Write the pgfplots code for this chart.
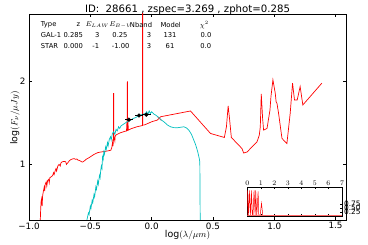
\documentclass[border=0pt]{standalone}
\usepackage{fontspec}
\setmainfont{DejaVu Sans}
\usepackage{pgfplots}
\pgfplotsset{compat=1.18}
\definecolor{mplcyan}{rgb}{0,0.75,0.75}
\begin{document}
\begin{tikzpicture}
\useasboundingbox (0,0) rectangle (368bp,245bp);
\begin{axis}[
  at={(29bp,25bp)}, anchor=south west,
  scale only axis, width=317bp, height=206bp,
  xmin=-1, xmax=1.585, ymin=0.334, ymax=2.8,
  xtick={-1,-0.5,0,0.5,1,1.5},
  xticklabels={−1.0,−0.5,0.0,0.5,1.0,1.5},
  ytick={1,2}, yticklabels={1,2},
  tick align=inside, major tick length=3bp,
  tick style={black, line width=0.5bp},
  axis line style={line width=0.8bp},
  ticklabel style={font=\fontsize{8.8}{10}\selectfont},
  xticklabel style={yshift=1bp},
]
% galaxy template (red)
\addplot[red, line width=0.7bp] coordinates {
(-0.908,0.334)(-0.905,0.45)(-0.902,0.55)(-0.897,0.587)(-0.893,0.50)(-0.889,0.62)(-0.885,0.66)(-0.88,0.70)(-0.876,0.727)(-0.872,0.68)(-0.868,0.76)(-0.86,0.79)(-0.855,0.74)(-0.848,0.807)(-0.84,0.82)(-0.835,0.78)(-0.83,0.84)(-0.82,0.85)(-0.807,0.867)(-0.80,0.90)(-0.795,0.88)(-0.785,0.93)(-0.78,0.948)(-0.775,0.92)(-0.765,0.98)(-0.755,1.00)(-0.745,0.98)(-0.740,1.016)(-0.73,1.03)(-0.713,1.036)(-0.70,1.03)(-0.695,1.00)(-0.685,1.016)(-0.67,1.045)(-0.659,1.057)(-0.645,1.065)(-0.632,1.069)(-0.62,1.06)(-0.61,1.065)(-0.60,1.05)(-0.591,1.048)(-0.58,1.04)(-0.57,1.03)(-0.563,1.028)(-0.55,1.04)(-0.535,1.06)(-0.523,1.069)(-0.50,1.09)(-0.469,1.12)(-0.44,1.14)(-0.415,1.148)(-0.38,1.155)(-0.345,1.165)(-0.333,1.169)(-0.325,1.20)(-0.318,1.27)(-0.315,1.22)(-0.311,1.30)(-0.311,1.85)(-0.309,1.85)(-0.309,1.31)(-0.307,1.329)(-0.30,1.28)(-0.297,1.34)(-0.293,1.349)(-0.28,1.36)(-0.26,1.375)(-0.24,1.385)(-0.22,1.395)(-0.205,1.40)(-0.200,1.55)(-0.199,1.40)(-0.198,1.99)(-0.196,1.99)(-0.196,1.41)(-0.193,1.52)(-0.19,1.41)(-0.17,1.425)(-0.15,1.435)(-0.12,1.45)(-0.09,1.46)(-0.074,1.465)(-0.074,3.0)(-0.072,3.0)(-0.072,1.47)(-0.063,1.47)(-0.03,1.49)(0.0,1.51)(0.046,1.53)(0.06,1.55)(0.073,1.57)(0.317,1.639)(0.48,1.37)(0.593,1.322)(0.61,1.45)(0.624,1.699)(0.635,1.55)(0.650,1.322)(0.737,1.189)(0.750,1.136)(0.778,1.148)(0.859,1.269)(0.878,1.35)(0.886,1.449)(0.894,1.843)(0.905,1.55)(0.913,1.410)(0.941,1.430)(0.965,1.65)(0.973,1.811)(0.989,2.012)(1.008,1.852)(1.015,1.75)(1.022,1.731)(1.035,1.612)(1.063,1.310)(1.083,1.28)(1.103,1.249)(1.13,1.612)(1.149,1.972)(1.165,1.771)(1.187,1.771)(1.211,1.931)(1.233,1.711)(1.388,1.972)
};
% star template (cyan)
\addplot[mplcyan, line width=0.7bp] coordinates {
(-0.528,0.334)(-0.515,0.42)(-0.51,0.40)(-0.50,0.50)(-0.495,0.47)(-0.485,0.57)(-0.48,0.54)(-0.47,0.64)(-0.465,0.61)(-0.455,0.73)(-0.45,0.70)(-0.44,0.80)(-0.435,0.76)(-0.425,0.87)(-0.42,0.84)(-0.415,0.93)(-0.41,0.98)(-0.405,0.95)(-0.40,1.09)(-0.395,1.06)(-0.39,1.15)(-0.385,1.12)(-0.375,1.21)(-0.37,1.18)(-0.36,1.26)(-0.355,1.22)(-0.345,1.30)(-0.335,1.33)(-0.33,1.29)(-0.32,1.37)(-0.31,1.39)(-0.30,1.36)(-0.29,1.42)(-0.28,1.40)(-0.27,1.45)(-0.26,1.43)(-0.25,1.46)(-0.23,1.48)(-0.21,1.50)(-0.19,1.52)(-0.17,1.53)(-0.15,1.55)(-0.13,1.56)(-0.11,1.58)(-0.09,1.59)(-0.07,1.60)(-0.05,1.61)(-0.04,1.63)(-0.03,1.60)(-0.02,1.64)(-0.01,1.61)(0.0,1.63)(0.006,1.62)(0.02,1.60)(0.033,1.59)(0.06,1.56)(0.08,1.53)(0.10,1.51)(0.13,1.47)(0.154,1.45)(0.18,1.44)(0.209,1.438)(0.24,1.445)(0.263,1.45)(0.285,1.435)(0.303,1.41)(0.325,1.36)(0.344,1.29)(0.36,1.23)(0.376,1.15)(0.387,1.08)(0.393,1.03)(0.396,0.334)
};
% gray mark
\addplot[gray, line width=0.6bp] coordinates {(0.05,1.565)(0.08,1.525)};
% photometry
\addplot[black, only marks, mark=*, mark size=1.8bp, line width=0.6bp,
  error bars/.cd, x dir=both, x explicit, error bar style={black, line width=0.6bp}, error mark=none]
  coordinates {(-0.185,1.535) +- (0.035,0) (-0.103,1.585) +- (0.035,0) (-0.043,1.595) +- (0.035,0)};
\end{axis}
% inset PDF
\begin{axis}[
  at={(247.3bp,29bp)}, anchor=south west,
  scale only axis, width=94.7bp, height=28.7bp,
  xmin=0, xmax=7, ymin=0, ymax=1.8,
  xtick={0,1,...,7}, xticklabel pos=upper,
  ytick={0.25,0.5,0.75}, yticklabels={0.25,0.50,0.75}, yticklabel pos=right,
  tick align=inside, major tick length=2bp,
  tick style={black, line width=0.4bp},
  axis line style={line width=0.8bp},
  axis background/.style={fill=white},
  ticklabel style={font=\fontsize{7.5}{8}\selectfont},
  yticklabel style={xshift=-1.5bp},
  xticklabel style={yshift=-1.5bp},
]
\addplot[red, line width=0.5bp] coordinates {
(0,0)(0.02,1.6)(0.1,0)(0.15,1.6)(0.25,0)(0.3,1.6)(0.38,0.1)(0.42,0)(0.5,1.6)(0.58,0)(0.62,1.6)(0.7,0)(0.8,1.55)(0.85,0)(0.95,0.05)(1.05,0.8)(1.15,0)(7,0)
};
\addplot[red!60, line width=0.6bp] coordinates {(0,0.06)(7,0.06)};
\end{axis}
% title
\node at (187.5bp,235.7bp) {\fontsize{10.2}{12}\selectfont ID:\ \ 28661 , zspec=3.269 , zphot=0.285};
% axis labels
\node at (187.5bp,10bp) {\fontsize{9.5}{11}\selectfont $\log(\lambda/\mu m)$};
\node[rotate=90] at (15bp,127bp) {\fontsize{9.5}{11}\selectfont $\log(F_\nu/\mu Jy)$};
% table
\begin{scope}[every node/.style={font=\fontsize{6.8}{8}\selectfont, inner sep=0pt}]
\node[anchor=west] at (40.7bp,220bp) {Type};
\node at (78.3bp,220bp) {z};
\node at (97.3bp,220bp) {$E_{LAW}$};
\node at (120.7bp,220bp) {$E_{B-V}$};
\node at (141bp,220bp) {Nband};
\node at (170.7bp,220bp) {Model};
\node at (204.3bp,220bp) {$\chi^2$};
\node[anchor=west] at (40.7bp,209.5bp) {GAL-1};
\node at (73.3bp,209.5bp) {0.285};
\node at (97.3bp,209.5bp) {3};
\node at (120bp,209.5bp) {0.25};
\node at (149bp,209.5bp) {3};
\node at (170bp,209.5bp) {131};
\node at (206bp,209.5bp) {0.0};
\node[anchor=west] at (40.7bp,199bp) {STAR};
\node at (73.3bp,199bp) {0.000};
\node at (95.7bp,199bp) {-1};
\node at (120.7bp,199bp) {-1.00};
\node at (149bp,199bp) {3};
\node at (170bp,199bp) {61};
\node at (205.7bp,199bp) {0.0};
\end{scope}
\end{tikzpicture}
\end{document}
